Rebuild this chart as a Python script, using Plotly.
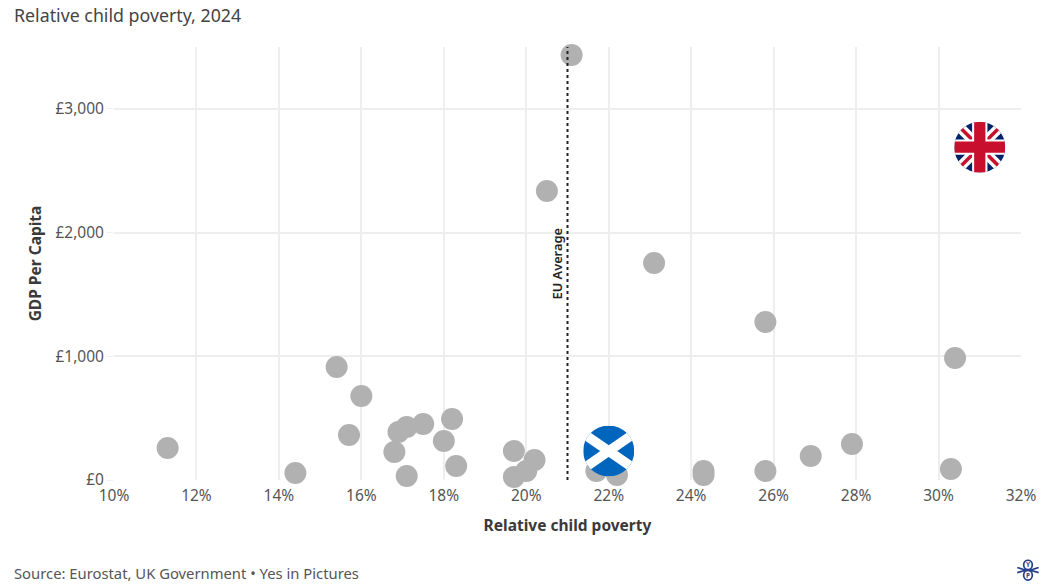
#!/usr/bin/env python
# -*- coding: utf-8 -*-

from urllib.parse import quote

import plotly.graph_objects as go

# relative child poverty (%) and GDP per capita (GBP)
poverty = [11.3, 14.4, 15.4, 15.7, 16.0, 16.8, 16.9, 17.1, 17.1, 17.5, 18.0, 18.2, 18.3, 19.7, 19.7,
           20.0, 20.2, 20.5, 21.1, 21.7, 22.2, 23.1, 24.3, 24.3, 25.8, 25.8, 26.9, 27.9, 30.3, 30.4]
gdp = [259, 57, 913, 364, 679, 226, 388, 428, 32, 453, 315, 493, 113, 234, 24,
       73, 162, 2336, 3436, 73, 40, 1754, 73, 40, 1277, 73, 194, 291, 89, 986]

uk_point = (31.0, 2690)
scotland_point = (22.0, 234)
eu_average = 21

x_ticks = [10, 12, 14, 16, 18, 20, 22, 24, 26, 28, 30, 32]
x_labels = [f"{v}%" for v in x_ticks]
y_ticks = [0, 1000, 2000, 3000]
y_labels = ["£0", "£1,000", "£2,000", "£3,000"]

FONT = "Noto Sans"
TEXT = "#555555"
DARK = "#3a3a3a"
GRID = "#eeeeee"

SCOTLAND_SVG = """<svg xmlns='http://www.w3.org/2000/svg' viewBox='0 0 100 100'>
<defs><clipPath id='c'><circle cx='50' cy='50' r='50'/></clipPath></defs>
<g clip-path='url(#c)'><rect width='100' height='100' fill='#0065bd'/>
<path d='M-5 12 L105 88 M105 12 L-5 88' stroke='#fff' stroke-width='19'/></g></svg>"""

UK_SVG = """<svg xmlns='http://www.w3.org/2000/svg' viewBox='0 0 100 100'>
<defs><clipPath id='c'><circle cx='50' cy='50' r='50'/></clipPath></defs>
<g clip-path='url(#c)'><rect width='100' height='100' fill='#012169'/>
<path d='M0 0 L100 100 M100 0 L0 100' stroke='#fff' stroke-width='20'/>
<path d='M0 0 L100 100 M100 0 L0 100' stroke='#c8102e' stroke-width='7'/>
<path d='M50 0 V100 M0 50 H100' stroke='#fff' stroke-width='30'/>
<path d='M50 0 V100 M0 50 H100' stroke='#c8102e' stroke-width='22'/></g></svg>"""

LOGO_SVG = """<svg xmlns='http://www.w3.org/2000/svg' viewBox='0 0 100 100'>
<g fill='none' stroke='#27408b' stroke-width='8'>
<ellipse cx='50' cy='26' rx='20' ry='22'/><ellipse cx='50' cy='74' rx='20' ry='22'/>
<path d='M0 38 Q35 50 50 50 Q65 50 100 38 M0 62 Q35 50 50 50 Q65 50 100 62'/></g>
<g fill='#27408b' font-family='Noto Sans' font-size='30' font-weight='700' text-anchor='middle'>
<text x='50' y='36'>Y</text><text x='50' y='85'>P</text></g></svg>"""


def svg_uri(svg):
    return "data:image/svg+xml," + quote(svg)


def flag_image(svg, point):
    return dict(source=svg_uri(svg), xref="x", yref="y", x=point[0], y=point[1], sizex=1.24, sizey=412,
                xanchor="center", yanchor="middle", sizing="stretch", layer="above")


fig = go.Figure()
fig.add_trace(go.Scatter(x=poverty, y=gdp, mode="markers", cliponaxis=False,
                         marker=dict(size=22, color="#b1b1b1"), name="Countries"))
fig.add_trace(go.Scatter(x=[eu_average, eu_average], y=[0, 3500], mode="lines",
                         line=dict(color="#222222", width=2, dash="dot"), hoverinfo="skip", name="EU Average"))

fig.update_layout(
    width=1049,
    height=588,
    showlegend=False,
    paper_bgcolor="white",
    plot_bgcolor="white",
    margin=dict(l=114, r=28, t=47, b=108, autoexpand=False),
    font=dict(family=FONT, color=TEXT, size=15),
    images=[
        flag_image(UK_SVG, uk_point),
        flag_image(SCOTLAND_SVG, scotland_point),
        dict(source=svg_uri(LOGO_SVG), xref="paper", yref="paper", x=1.0077, y=-0.208, sizex=0.024, sizey=0.05,
             xanchor="center", yanchor="middle", layer="above"),
    ],
    annotations=[
        dict(text="Relative child poverty, 2024", xref="paper", yref="paper", x=-0.1125, y=1.074, showarrow=False,
             xanchor="left", yanchor="middle", font=dict(size=17.8, color="#444444")),
        dict(text="Source: Eurostat, UK Government • Yes in Pictures", xref="paper", yref="paper", x=-0.1125, y=-0.2148,
             showarrow=False, xanchor="left", yanchor="middle", font=dict(size=14.8, color="#555555")),
        dict(text="EU Average", x=eu_average, y=1746, xshift=-11, textangle=-90, showarrow=False,
             font=dict(size=12.8, color="#222222", weight=600)),
    ],
)
fig.update_xaxes(range=[10, 32], tickvals=x_ticks, ticktext=x_labels, showgrid=True, gridcolor=GRID,
                 gridwidth=1.5, zeroline=False, showline=False, ticks="", ticklabelstandoff=4,
                 tickfont=dict(size=15.5, color=TEXT),
                 title=dict(text="<b>Relative child poverty</b>", standoff=15, font=dict(size=15.5, color=DARK)))
fig.update_yaxes(range=[0, 3500], tickvals=y_ticks, ticktext=y_labels, showgrid=True, gridcolor=GRID,
                 gridwidth=1.5, zeroline=False, showline=False, ticks="outside", ticklen=6, tickcolor=GRID,
                 tickfont=dict(size=15.5, color=TEXT),
                 title=dict(text="<b>GDP Per Capita</b>", standoff=9, font=dict(size=15.5, color=DARK)))

# the page's default body margin would push the chart 8px off the corner
fig.write_html("out.html", config=dict(displayModeBar=False), post_script="document.body.style.margin='0';")
